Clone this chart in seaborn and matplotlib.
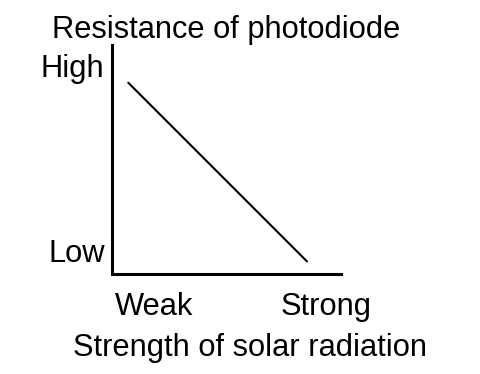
import matplotlib
matplotlib.use("Agg")
import matplotlib.pyplot as plt
import seaborn as sns
import pandas as pd

strength = [0.073, 0.852]
resistance = [0.835, 0.053]
x_ticks = [0.187, 0.935]
x_tick_labels = ["Weak", "Strong"]
y_ticks = [0.102, 0.91]
y_tick_labels = ["Low", "High"]
title = "Resistance of photodiode"
xlabel = "Strength of solar radiation"

sns.set_theme(style="white")
plt.rcParams['font.family'] = ['Liberation Sans', 'DejaVu Sans']

df = pd.DataFrame({"strength": strength, "resistance": resistance})

fig = plt.figure(figsize=(4.8, 3.74), dpi=100)
ax = fig.add_axes([0.2323, 0.2687, 0.478, 0.611])
sns.lineplot(data=df, x="strength", y="resistance", ax=ax, color="black", linewidth=1.5)
ax.set_xlim(0, 1)
ax.set_ylim(0, 1)
for side in ["top", "right"]:
    ax.spines[side].set_visible(False)
for side in ["left", "bottom"]:
    ax.spines[side].set_color("black")
    ax.spines[side].set_linewidth(2.2)
ax.set_xticks(x_ticks)
ax.set_xticklabels(x_tick_labels)
ax.set_yticks(y_ticks)
ax.set_yticklabels(y_tick_labels)
ax.tick_params(axis="x", length=0, pad=13, labelsize=22.2, labelcolor="black")
ax.tick_params(axis="y", length=0, pad=5, labelsize=22.2, labelcolor="black")
ax.set_title(title, fontsize=22.2, color="black", pad=5)
ax.set_xlabel(xlabel, fontsize=22.2, color="black")
ax.set_ylabel("")
ax.xaxis.set_label_coords(0.603, -0.26)
fig.savefig("out.png", dpi=100)
